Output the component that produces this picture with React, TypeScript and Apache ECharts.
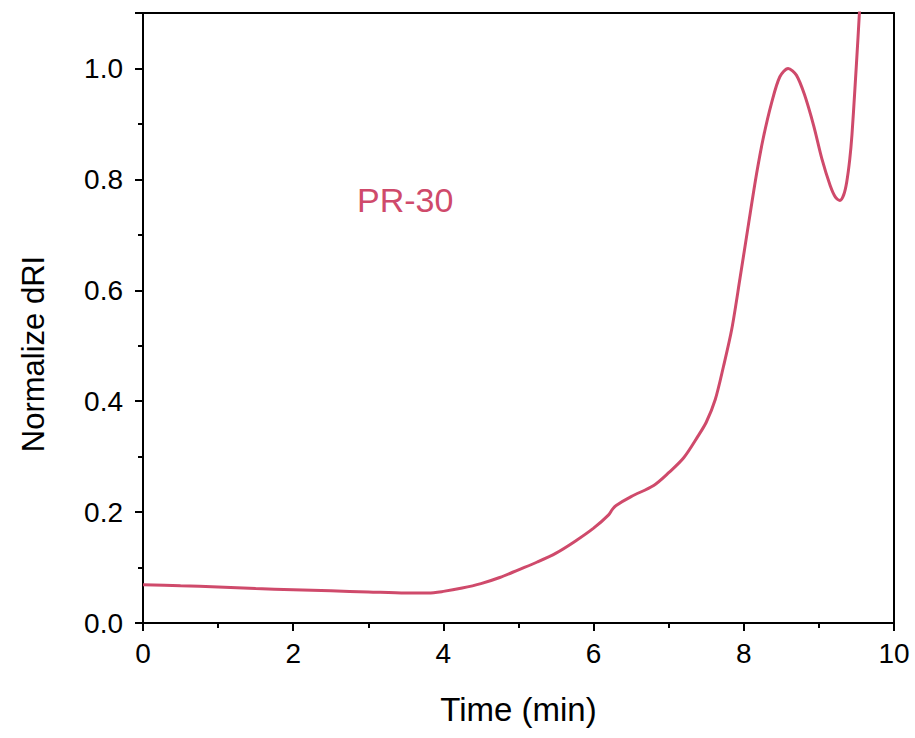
import React, { useEffect, useRef } from "react";
import * as echarts from "echarts";

const timeMin = [0, 0.5, 1, 1.5, 2, 2.5, 3, 3.5, 3.8, 4, 4.25, 4.5, 4.75, 5, 5.25, 5.5, 5.75, 6, 6.2, 6.25, 6.3, 6.5, 6.8, 7, 7.2, 7.39, 7.5, 7.62, 7.73, 7.84, 7.95, 8.06, 8.17, 8.26, 8.37, 8.48, 8.59, 8.7, 8.81, 8.93, 9.04, 9.15, 9.22, 9.28, 9.33, 9.37, 9.41, 9.44, 9.48, 9.52, 9.56];
const dri = [0.069, 0.067, 0.065, 0.062, 0.060, 0.058, 0.056, 0.054, 0.054, 0.057, 0.063, 0.071, 0.082, 0.096, 0.110, 0.126, 0.147, 0.171, 0.195, 0.205, 0.212, 0.228, 0.248, 0.271, 0.298, 0.337, 0.362, 0.403, 0.463, 0.530, 0.622, 0.717, 0.810, 0.875, 0.938, 0.985, 1.0, 0.988, 0.952, 0.897, 0.837, 0.789, 0.768, 0.762, 0.772, 0.795, 0.835, 0.880, 0.964, 1.054, 1.15];
const seriesLabel = "PR-30";
const xName = "Time (min)";
const yName = "Normalize dRI";

const COLOR = "#cf4a6b";
const FONT = "'Liberation Sans', Arial, sans-serif";

export default function App() {
  const ref = useRef<HTMLDivElement>(null);
  useEffect(() => {
    if (!ref.current) return;
    const chart = echarts.init(ref.current, undefined, { renderer: "svg" });
    const data = timeMin.map((t, i) => [t, dri[i]]);
    chart.setOption({
      animation: false,
      backgroundColor: "#fff",
      grid: { left: 143, right: 21, top: 13, bottom: 115 },
      xAxis: [
        {
          type: "value", min: 0, max: 10, interval: 2,
          name: xName, nameLocation: "middle", nameGap: 70,
          nameTextStyle: { fontFamily: FONT, fontSize: 33, color: "#000" },
          axisLine: { show: true, onZero: false, lineStyle: { color: "#000", width: 2 } },
          axisTick: { show: true, inside: false, length: 8, lineStyle: { color: "#000", width: 2 } },
          minorTick: { show: true, splitNumber: 2, length: 5, lineStyle: { color: "#000", width: 2 } },
          axisLabel: { fontFamily: FONT, fontSize: 28, color: "#000", margin: 16 },
          splitLine: { show: false },
        },
        {
          type: "value", position: "top", min: 0, max: 10,
          axisLine: { show: true, onZero: false, lineStyle: { color: "#000", width: 2 } },
          axisTick: { show: false }, axisLabel: { show: false }, splitLine: { show: false },
        },
      ],
      yAxis: [
        {
          type: "value", min: 0, max: 1.1, interval: 0.2,
          axisLine: { show: true, onZero: false, lineStyle: { color: "#000", width: 2 } },
          axisTick: { show: true, inside: false, length: 8, lineStyle: { color: "#000", width: 2 } },
          minorTick: { show: true, splitNumber: 2, length: 5, lineStyle: { color: "#000", width: 2 } },
          axisLabel: { fontFamily: FONT, fontSize: 28, color: "#000", margin: 20, formatter: (v: number) => v.toFixed(1), showMaxLabel: false },
          splitLine: { show: false },
        },
        {
          type: "value", position: "right", min: 0, max: 1.1,
          axisLine: { show: true, onZero: false, lineStyle: { color: "#000", width: 2 } },
          axisTick: { show: false }, axisLabel: { show: false }, splitLine: { show: false },
        },
      ],
      series: [
        {
          type: "line", name: seriesLabel, data, smooth: 0.3, showSymbol: false, clip: true,
          lineStyle: { color: COLOR, width: 3 }, itemStyle: { color: COLOR },
        },
      ],
      graphic: [
        {
          type: "text", left: 357, top: 183,
          style: { text: seriesLabel, fontFamily: FONT, fontSize: 34, fill: COLOR },
        },
        {
          type: "text", x: 33, y: 354, rotation: Math.PI / 2,
          style: { text: yName, fontFamily: FONT, fontSize: 31, fill: "#000", align: "center", verticalAlign: "middle" },
        },
      ],
    });
    return () => chart.dispose();
  }, []);
  return <div ref={ref} style={{ width: 915, height: 738, position: "absolute", left: 0, top: 0 }} />;
}
